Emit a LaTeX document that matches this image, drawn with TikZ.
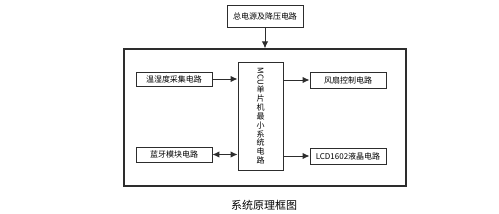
\documentclass[tikz,border=0pt]{standalone}
\usepackage{fontspec}
\setmainfont{Noto Sans CJK SC}
\usepackage{graphicx}
\usetikzlibrary{arrows.meta, positioning}
\definecolor{LineGray}{RGB}{45,45,45}

\begin{document}
\begin{tikzpicture}[x=1pt, y=-1pt,
            box/.style={rectangle, draw=LineGray, line width=0.9pt,
                        minimum width=76pt, minimum height=15pt,
                        inner sep=1pt, font=\fontsize{8}{9}\selectfont},
            arr/.style={-{Latex[length=7pt,width=6.5pt]}, LineGray, line width=1pt}
          ]
          \useasboundingbox (0,0) rectangle (499,214);
          \node[draw=LineGray, line width=1.3pt, minimum width=282pt,
                minimum height=137pt, inner sep=0pt] (board) at (265,117.5) {};
          \node[box, minimum height=22pt] (pwr) at (265,16) {总电源及降压电路};
          \node[box, minimum width=45pt, minimum height=108pt,
                align=center, font=\fontsize{8}{8.9}\selectfont] (mcu) at (260.5,116)
                {\rotatebox{-90}{MCU}\\单\\片\\机\\最\\小\\系\\统\\电\\路};
          \node[box, minimum height=14pt] (sens) at (174,79) {温湿度采集电路};
          \node[box, minimum height=16pt] (fan)  at (348,80) {风扇控制电路};
          \node[box] (bt)  at (174,154.5) {蓝牙模块电路};
          \node[box, minimum height=16pt] (lcd)  at (348,156) {LCD1602液晶电路};
          \node[font=\fontsize{11}{12}\selectfont] (cap) at (264,205) {系统原理框图};

          \draw[arr] (pwr)  -- (board.north);
          \draw[arr] (sens) -- (sens -| mcu.west);
          \draw[arr] (mcu.east |- fan) -- (fan);
          \draw[arr, {Latex[length=7pt,width=6.5pt]}-{Latex[length=7pt,width=6.5pt]}]
                (bt) -- (bt -| mcu.west);
          \draw[arr] (mcu.east |- lcd) -- (lcd);
        \end{tikzpicture}
\end{document}
